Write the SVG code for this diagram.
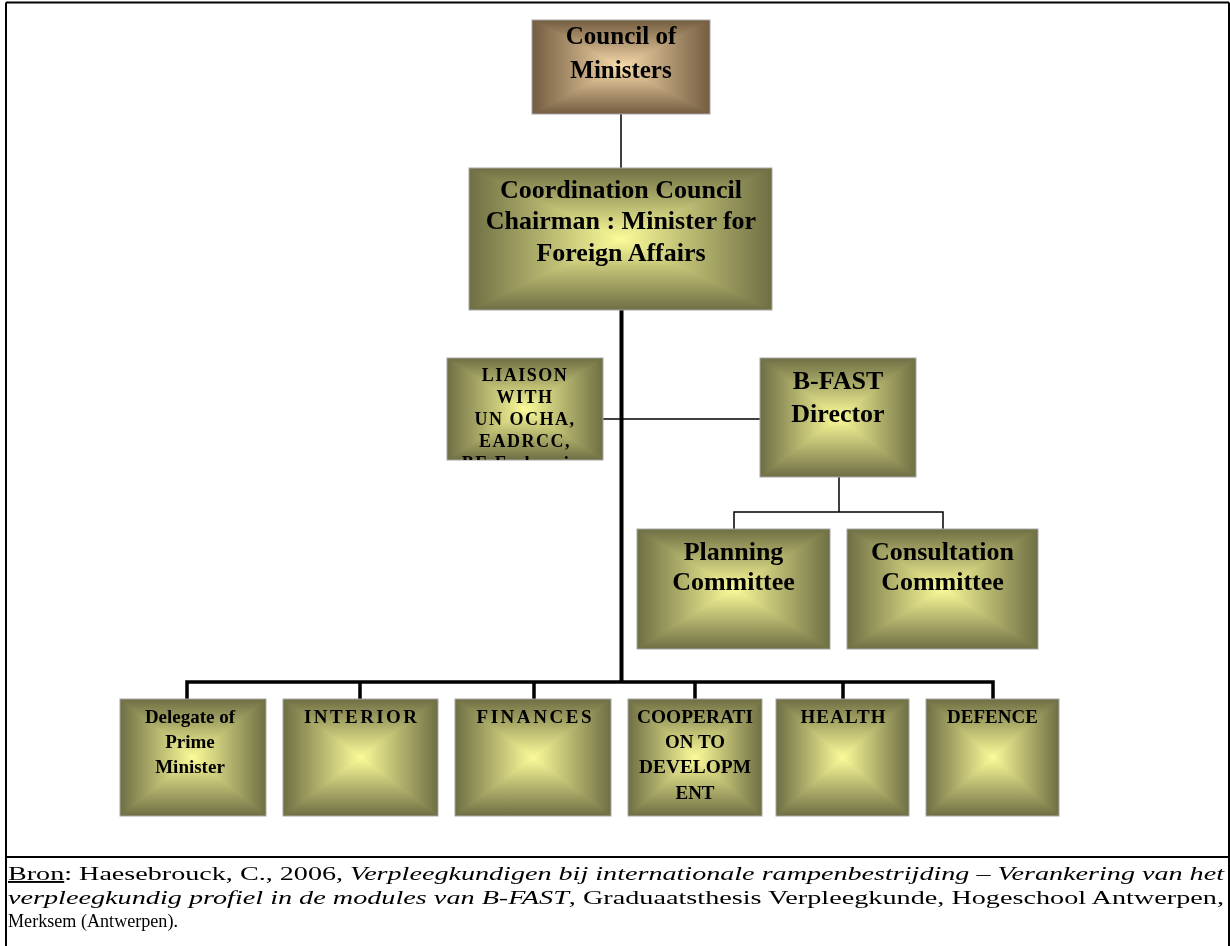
<svg xmlns="http://www.w3.org/2000/svg" width="1230" height="946" viewBox="0 0 1230 946">
<style>
  .bh{fill:url(#gh)}
  .bv{fill:url(#gv);mix-blend-mode:darken}
  .brh{fill:url(#gbh)}
  .brv{fill:url(#gbv);mix-blend-mode:darken}
  .frame{fill:none;stroke:#a6a6a6;stroke-width:1}
  .t{font-family:"Liberation Serif","Times New Roman",serif;font-weight:bold;fill:#000;text-anchor:middle}
  .big{font-size:26px}
  .mid{font-size:19px}
  .small{font-size:18px;letter-spacing:1.5px}
  .thin{fill:none;stroke:#000;stroke-width:1.5}
  .thick{fill:none;stroke:#000;stroke-width:3.5}
  .border{fill:none;stroke:#000;stroke-width:2}
  .cap{font-family:"Liberation Serif","Times New Roman",serif;font-size:19px;fill:#000}
</style>
<defs>
  <linearGradient id="gh" x1="0" y1="0" x2="1" y2="0">
    <stop offset="0" stop-color="#6e6e44"/>
    <stop offset="0.5" stop-color="#fbfb99"/>
    <stop offset="1" stop-color="#6e6e44"/>
  </linearGradient>
  <linearGradient id="gv" x1="0" y1="0" x2="0" y2="1">
    <stop offset="0" stop-color="#6e6e44"/>
    <stop offset="0.5" stop-color="#fbfb99"/>
    <stop offset="1" stop-color="#6e6e44"/>
  </linearGradient>
  <linearGradient id="gbh" x1="0" y1="0" x2="1" y2="0">
    <stop offset="0" stop-color="#735c40"/>
    <stop offset="0.5" stop-color="#f8dbab"/>
    <stop offset="1" stop-color="#735c40"/>
  </linearGradient>
  <linearGradient id="gbv" x1="0" y1="0" x2="0" y2="1">
    <stop offset="0" stop-color="#735c40"/>
    <stop offset="0.5" stop-color="#f8dbab"/>
    <stop offset="1" stop-color="#735c40"/>
  </linearGradient>
  <clipPath id="clipLiaison"><rect x="447" y="358" width="156" height="102"/></clipPath>
</defs>

<rect x="0" y="0" width="1230" height="946" fill="#fff"/>

<g id="frame">
  <path class="border" d="M6 2.5 H1229 M6 2.5 V946 M1229 2.5 V946 M6 857 H1229"/>
</g>

<g id="connectors">
  <path class="thin" d="M621 114 V168"/>
  <path class="thick" d="M621.5 310 V683" style="stroke-width:4"/>
  <path class="thin" d="M603 419 H760"/>
  <path class="thin" d="M839 477 V512 M734 529 V512 H943 V529"/>
  <path class="thick" d="M187 699 V682 H993 V699 M360 682 V699 M534 682 V699 M695 682 V699 M843 682 V699"/>
</g>

<g id="council">
  <rect class="brh" x="532" y="20" width="178" height="94"/>
  <rect class="brv" x="532" y="20" width="178" height="94"/>
  <rect class="frame" x="532" y="20" width="178" height="94"/>
  <text class="t" style="font-size:25px" x="621" y="44">Council of</text>
  <text class="t" style="font-size:25px" x="621" y="78">Ministers</text>
</g>

<g id="coordination">
  <rect class="bh" x="469" y="168" width="303" height="142"/>
  <rect class="bv" x="469" y="168" width="303" height="142"/>
  <rect class="frame" x="469" y="168" width="303" height="142"/>
  <text class="t big" x="621" y="198">Coordination Council</text>
  <text class="t big" x="621" y="229">Chairman : Minister for</text>
  <text class="t big" x="621" y="261">Foreign Affairs</text>
</g>

<g id="liaison">
  <rect class="bh" x="447" y="358" width="156" height="102"/>
  <rect class="bv" x="447" y="358" width="156" height="102"/>
  <rect class="frame" x="447" y="358" width="156" height="102"/>
  <g clip-path="url(#clipLiaison)">
    <text class="t small" x="525" y="381">LIAISON</text>
    <text class="t small" x="525" y="403">WITH</text>
    <text class="t small" x="525" y="425">UN OCHA,</text>
    <text class="t small" x="525" y="447">EADRCC,</text>
    <text class="t small" x="525" y="469">BE Embassies</text>
  </g>
</g>

<g id="bfast">
  <rect class="bh" x="760" y="358" width="156" height="119"/>
  <rect class="bv" x="760" y="358" width="156" height="119"/>
  <rect class="frame" x="760" y="358" width="156" height="119"/>
  <text class="t big" x="838" y="389">B-FAST</text>
  <text class="t big" x="838" y="422">Director</text>
</g>

<g id="planning">
  <rect class="bh" x="637" y="529" width="193" height="120"/>
  <rect class="bv" x="637" y="529" width="193" height="120"/>
  <rect class="frame" x="637" y="529" width="193" height="120"/>
  <text class="t big" x="733.5" y="560">Planning</text>
  <text class="t big" x="733.5" y="590">Committee</text>
</g>

<g id="consultation">
  <rect class="bh" x="847" y="529" width="191" height="120"/>
  <rect class="bv" x="847" y="529" width="191" height="120"/>
  <rect class="frame" x="847" y="529" width="191" height="120"/>
  <text class="t big" x="942.5" y="560">Consultation</text>
  <text class="t big" x="942.5" y="590">Committee</text>
</g>

<g id="delegate">
  <rect class="bh" x="120" y="699" width="146" height="117"/>
  <rect class="bv" x="120" y="699" width="146" height="117"/>
  <rect class="frame" x="120" y="699" width="146" height="117"/>
  <text class="t mid" x="190" y="723">Delegate of</text>
  <text class="t mid" x="190" y="748">Prime</text>
  <text class="t mid" x="190" y="773">Minister</text>
</g>

<g id="interior">
  <rect class="bh" x="283" y="699" width="155" height="117"/>
  <rect class="bv" x="283" y="699" width="155" height="117"/>
  <rect class="frame" x="283" y="699" width="155" height="117"/>
  <text class="t mid" x="360.5" y="723" textLength="113" lengthAdjust="spacing">INTERIOR</text>
</g>

<g id="finances">
  <rect class="bh" x="455" y="699" width="156" height="117"/>
  <rect class="bv" x="455" y="699" width="156" height="117"/>
  <rect class="frame" x="455" y="699" width="156" height="117"/>
  <text class="t mid" x="534" y="723" textLength="115" lengthAdjust="spacing">FINANCES</text>
</g>

<g id="cooperation">
  <rect class="bh" x="628" y="699" width="134" height="117"/>
  <rect class="bv" x="628" y="699" width="134" height="117"/>
  <rect class="frame" x="628" y="699" width="134" height="117"/>
  <text class="t mid" x="695" y="723" textLength="116" lengthAdjust="spacingAndGlyphs">COOPERATI</text>
  <text class="t mid" x="695" y="748">ON TO</text>
  <text class="t mid" x="695" y="773" textLength="112" lengthAdjust="spacingAndGlyphs">DEVELOPM</text>
  <text class="t mid" x="695" y="799">ENT</text>
</g>

<g id="health">
  <rect class="bh" x="776" y="699" width="133" height="117"/>
  <rect class="bv" x="776" y="699" width="133" height="117"/>
  <rect class="frame" x="776" y="699" width="133" height="117"/>
  <text class="t mid" x="843" y="723" textLength="85" lengthAdjust="spacing">HEALTH</text>
</g>

<g id="defence">
  <rect class="bh" x="926" y="699" width="133" height="117"/>
  <rect class="bv" x="926" y="699" width="133" height="117"/>
  <rect class="frame" x="926" y="699" width="133" height="117"/>
  <text class="t mid" x="992.5" y="723">DEFENCE</text>
</g>

<g id="caption">
  <text class="cap" x="8" y="880" textLength="1216" lengthAdjust="spacingAndGlyphs"><tspan style="text-decoration:underline">Bron</tspan>: Haesebrouck, C., 2006, <tspan font-style="italic">Verpleegkundigen bij internationale rampenbestrijding – Verankering van het</tspan></text>
  <text class="cap" x="8" y="904" textLength="1216" lengthAdjust="spacingAndGlyphs"><tspan font-style="italic">verpleegkundig profiel in de modules van B-FAST</tspan>, Graduaatsthesis Verpleegkunde, Hogeschool Antwerpen,</text>
  <text class="cap" x="8" y="927" textLength="170" lengthAdjust="spacingAndGlyphs">Merksem (Antwerpen).</text>
</g>
</svg>
